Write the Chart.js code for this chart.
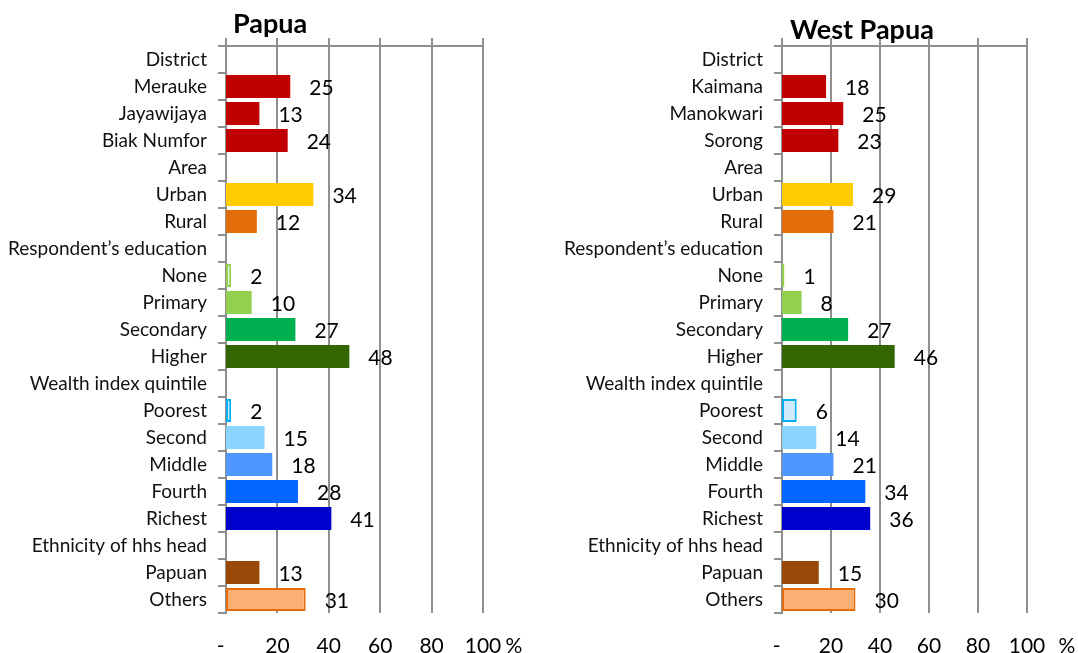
<!DOCTYPE html>
<html>
<head>
<meta charset="utf-8">
<script src="https://cdn.jsdelivr.net/npm/chart.js@4.4.1/dist/chart.umd.min.js"></script>
<style>
  html, body { margin: 0; padding: 0; background: #fff; }
  .panel { position: absolute; top: 0; width: 539px; height: 653px; }
  #left { left: 0; }
  #right { left: 539px; }
</style>
</head>
<body>
<div class="panel" id="left"><canvas id="papua" width="539" height="653"></canvas></div>
<div class="panel" id="right"><canvas id="westPapua" width="539" height="653"></canvas></div>
<script>
// --- data ---
const papuaLabels = ['District', 'Merauke', 'Jayawijaya', 'Biak Numfor', 'Area', 'Urban', 'Rural',
  'Respondent\u2019s education', 'None', 'Primary', 'Secondary', 'Higher', 'Wealth index quintile',
  'Poorest', 'Second', 'Middle', 'Fourth', 'Richest', 'Ethnicity of hhs head', 'Papuan', 'Others'];
const papuaValues = [null, 25, 13, 24, null, 34, 12, null, 2, 10, 27, 48, null, 2, 15, 18, 28, 41, null, 13, 31];

const westLabels = ['District', 'Kaimana', 'Manokwari', 'Sorong', 'Area', 'Urban', 'Rural',
  'Respondent\u2019s education', 'None', 'Primary', 'Secondary', 'Higher', 'Wealth index quintile',
  'Poorest', 'Second', 'Middle', 'Fourth', 'Richest', 'Ethnicity of hhs head', 'Papuan', 'Others'];
const westValues = [null, 18, 25, 23, null, 29, 21, null, 1, 8, 27, 46, null, 6, 14, 21, 34, 36, null, 15, 30];

const xTicks = [0, 20, 40, 60, 80, 100];

// --- styles (same row order for both panels) ---
const barFill = ['#fff', '#C00000', '#C00000', '#C00000', '#fff', '#FFCC00', '#E46C0A',
  '#fff', '#EEF7E4', '#92D050', '#00B050', '#336600', '#fff',
  '#CFEAFB', '#8AD5FF', '#4F97FF', '#0066FF', '#0000CC', '#fff', '#984807', '#F9B072'];
const barEdge = ['#fff', '#C00000', '#C00000', '#C00000', '#fff', '#FFCC00', '#E46C0A',
  '#fff', '#92D050', '#92D050', '#00B050', '#336600', '#fff',
  '#00B0F0', '#8AD5FF', '#4F97FF', '#0066FF', '#0000CC', '#fff', '#984807', '#E46C0A'];
const barEdgeWidth = [0, 0, 0, 0, 0, 0, 0, 0, 2, 0, 0, 0, 0, 2, 0, 0, 0, 0, 0, 0, 2];

const FONT = 'Lato, "Open Sans", sans-serif';
const GRID = '#8f8f8f';

// value labels to the right of each bar
const valueLabels = {
  id: 'valueLabels',
  afterDatasetsDraw(chart) {
    const ctx = chart.ctx;
    const meta = chart.getDatasetMeta(0);
    const vals = chart.data.datasets[0].data;
    ctx.save();
    ctx.font = '21px ' + FONT;
    ctx.fillStyle = '#000';
    ctx.textAlign = 'left';
    ctx.textBaseline = 'middle';
    meta.data.forEach((bar, i) => {
      if (vals[i] == null) return;
      ctx.fillText(String(vals[i]), bar.x + 19, bar.y + 2);
    });
    ctx.restore();
  }
};

// panel title + the stray "%" beside the last tick
const decorations = {
  id: 'decorations',
  afterDraw(chart, args, opts) {
    const ctx = chart.ctx;
    ctx.save();
    ctx.fillStyle = '#000';
    ctx.font = 'bold 27px ' + FONT;
    ctx.textAlign = 'left';
    ctx.textBaseline = 'alphabetic';
    ctx.fillText(opts.title, opts.titleX, opts.titleY);
    const xs = chart.scales.x;
    ctx.font = '21px ' + FONT;
    ctx.textAlign = 'center';
    ctx.textBaseline = 'middle';
    ctx.fillText('%', xs.getPixelForValue(100) + opts.pctOffset, xs.top + 21 + 12.6);
    ctx.restore();
  }
};

function makeChart(canvasId, labels, values, o) {
  return new Chart(document.getElementById(canvasId), {
    type: 'bar',
    data: {
      labels: labels,
      datasets: [{
        data: values,
        backgroundColor: barFill,
        borderColor: barEdge,
        borderWidth: barEdgeWidth,
        borderSkipped: false,
        barPercentage: 0.85,
        categoryPercentage: 1.0,
        xAxisID: 'x',
        yAxisID: 'y'
      }]
    },
    options: {
      indexAxis: 'y',
      responsive: false,
      animation: false,
      layout: { padding: { left: 0, right: o.padRight, top: 38, bottom: 0 } },
      plugins: {
        legend: { display: false },
        tooltip: { enabled: false },
        decorations: { title: o.title, titleX: o.titleX, titleY: o.titleY, pctOffset: o.pctOffset }
      },
      scales: {
        x: {
          type: 'linear',
          position: 'bottom',
          min: 0,
          max: 100,
          afterBuildTicks: (s) => { s.ticks = xTicks.map(v => ({ value: v })); },
          ticks: {
            padding: 21,
            color: '#000',
            font: { family: FONT, size: 21 },
            maxRotation: 0,
            callback: (v) => (v === 0 ? '-  ' : String(v))
          },
          grid: { display: false, drawTicks: false },
          border: { display: false },
          afterFit: (s) => { s.height = 40; }
        },
        x2: {
          type: 'linear',
          position: 'top',
          min: 0,
          max: 100,
          afterBuildTicks: (s) => { s.ticks = xTicks.map(v => ({ value: v })); },
          ticks: { display: false },
          grid: { color: GRID, lineWidth: 2, drawTicks: true, tickLength: 8 },
          border: { display: true, color: GRID, width: 2 },
          afterFit: (s) => { s.height = 8; }
        },
        y: {
          type: 'category',
          position: 'left',
          ticks: {
            padding: 11,
            color: '#111',
            autoSkip: false,
            font: { family: FONT, size: 19 }
          },
          grid: { display: true, drawOnChartArea: false, drawTicks: true, tickLength: 8, offset: true, color: GRID, lineWidth: 2 },
          border: { display: true, color: GRID, width: 2 },
          afterFit: (s) => { s.width = o.axisWidth; }
        }
      }
    },
    plugins: [valueLabels, decorations]
  });
}

makeChart('papua', papuaLabels, papuaValues,
  { title: 'Papua', titleX: 233, titleY: 33, padRight: 56, axisWidth: 226, pctOffset: 31 });
makeChart('westPapua', westLabels, westValues,
  { title: 'West Papua', titleX: 251, titleY: 39, padRight: 51, axisWidth: 243, pctOffset: 40 });
</script>
</body>
</html>
